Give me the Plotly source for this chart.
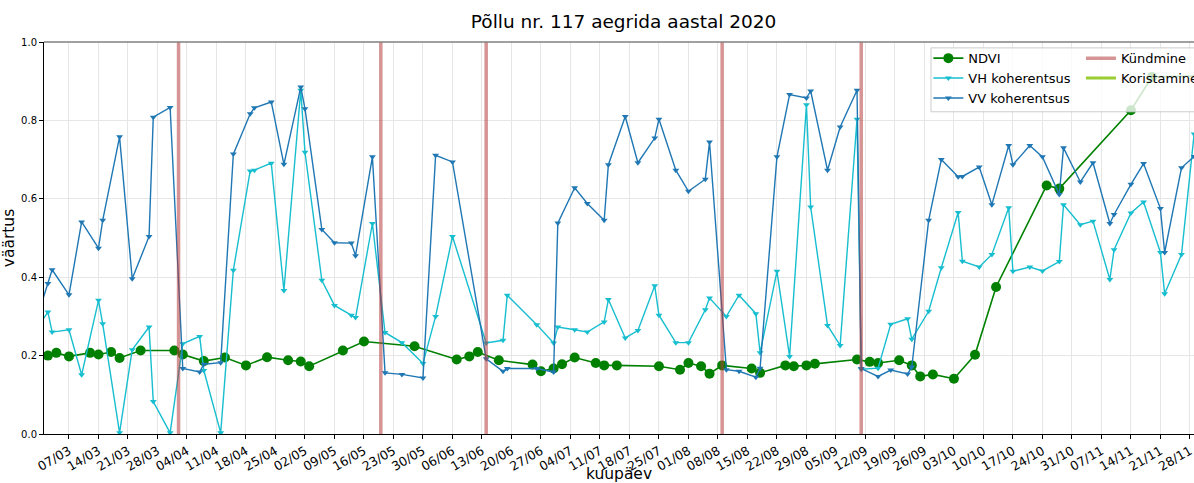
import plotly.graph_objects as go

# Sentinel-1 coherence dates and values
s1_dates = [
    "2020-02-28", "2020-03-02", "2020-03-03", "2020-03-07", "2020-03-10", "2020-03-14",
    "2020-03-15", "2020-03-19", "2020-03-22", "2020-03-26", "2020-03-27", "2020-03-31",
    "2020-04-03", "2020-04-07", "2020-04-08", "2020-04-12", "2020-04-15", "2020-04-19",
    "2020-04-20", "2020-04-24", "2020-04-27", "2020-05-01", "2020-05-02", "2020-05-06",
    "2020-05-09", "2020-05-13", "2020-05-14", "2020-05-18", "2020-05-21", "2020-05-25",
    "2020-05-30", "2020-06-02", "2020-06-06", "2020-06-14", "2020-06-18", "2020-06-19",
    "2020-06-26", "2020-06-30", "2020-07-01", "2020-07-05", "2020-07-08", "2020-07-12",
    "2020-07-13", "2020-07-17", "2020-07-20", "2020-07-24", "2020-07-25", "2020-07-29",
    "2020-08-01", "2020-08-05", "2020-08-06", "2020-08-10", "2020-08-13", "2020-08-17",
    "2020-08-18", "2020-08-22", "2020-08-25", "2020-08-29", "2020-08-30", "2020-09-03",
    "2020-09-06", "2020-09-10", "2020-09-11", "2020-09-15", "2020-09-18", "2020-09-22",
    "2020-09-23", "2020-09-27", "2020-09-30", "2020-10-04", "2020-10-05", "2020-10-09",
    "2020-10-12", "2020-10-16", "2020-10-17", "2020-10-21", "2020-10-24", "2020-10-28",
    "2020-10-29", "2020-11-02", "2020-11-05", "2020-11-09", "2020-11-10", "2020-11-14",
    "2020-11-17", "2020-11-21", "2020-11-22", "2020-11-26", "2020-11-29",
]
vh_values = [
    0.264, 0.311, 0.260, 0.266, 0.151, 0.341,
    0.281, 0.003, 0.215, 0.273, 0.083, 0.003,
    0.230, 0.249, 0.162, 0.003, 0.418, 0.671,
    0.673, 0.691, 0.366, 0.877, 0.719, 0.392,
    0.328, 0.303, 0.297, 0.537, 0.259, 0.233,
    0.180, 0.300, 0.504, 0.232, 0.239, 0.354,
    0.279, 0.232, 0.273, 0.266, 0.260, 0.286,
    0.343, 0.245, 0.264, 0.378, 0.303, 0.233,
    0.233, 0.317, 0.347, 0.300, 0.354, 0.307,
    0.207, 0.415, 0.198, 0.840, 0.579, 0.277,
    0.226, 0.803, 0.165, 0.168, 0.280, 0.294,
    0.242, 0.313, 0.424, 0.565, 0.441, 0.426,
    0.458, 0.577, 0.415, 0.426, 0.416, 0.440,
    0.585, 0.534, 0.543, 0.394, 0.470, 0.564,
    0.592, 0.463, 0.358, 0.458, 0.765,
]
vv_values = [
    0.282, 0.384, 0.419, 0.355, 0.541, 0.474,
    0.545, 0.758, 0.396, 0.504, 0.808, 0.833,
    0.167, 0.158, 0.178, 0.182, 0.714, 0.817,
    0.832, 0.847, 0.688, 0.885, 0.830, 0.522,
    0.488, 0.487, 0.455, 0.707, 0.156, 0.152,
    0.143, 0.711, 0.694, 0.192, 0.160, 0.167,
    0.167, 0.158, 0.538, 0.628, 0.588, 0.545,
    0.687, 0.810, 0.692, 0.755, 0.803, 0.673,
    0.619, 0.650, 0.745, 0.164, 0.160, 0.145,
    0.168, 0.707, 0.866, 0.857, 0.875, 0.673,
    0.783, 0.877, 0.167, 0.147, 0.163, 0.153,
    0.171, 0.545, 0.700, 0.656, 0.657, 0.681,
    0.585, 0.736, 0.687, 0.736, 0.707, 0.611,
    0.730, 0.643, 0.692, 0.537, 0.560, 0.637,
    0.690, 0.575, 0.463, 0.679, 0.708,
]

# NDVI dates and values
ndvi_dates = [
    "2020-03-02", "2020-03-04", "2020-03-07", "2020-03-12", "2020-03-14", "2020-03-17",
    "2020-03-19", "2020-03-24", "2020-04-01", "2020-04-03", "2020-04-08", "2020-04-13",
    "2020-04-18", "2020-04-23", "2020-04-28", "2020-05-01", "2020-05-03", "2020-05-11",
    "2020-05-16", "2020-05-28", "2020-06-07", "2020-06-10", "2020-06-12", "2020-06-17",
    "2020-06-25", "2020-06-27", "2020-06-30", "2020-07-02", "2020-07-05", "2020-07-10",
    "2020-07-12", "2020-07-15", "2020-07-25", "2020-07-30", "2020-08-01", "2020-08-04",
    "2020-08-06", "2020-08-09", "2020-08-16", "2020-08-18", "2020-08-24", "2020-08-26",
    "2020-08-29", "2020-08-31", "2020-09-10", "2020-09-13", "2020-09-15", "2020-09-20",
    "2020-09-23", "2020-09-25", "2020-09-28", "2020-10-03", "2020-10-08", "2020-10-13",
    "2020-10-25", "2020-10-28", "2020-11-14", "2020-11-19", "2020-11-30",
]
ndvi_values = [
    0.200, 0.207, 0.198, 0.207, 0.203, 0.209,
    0.194, 0.213, 0.213, 0.203, 0.186, 0.195,
    0.175, 0.196, 0.188, 0.185, 0.173, 0.213,
    0.236, 0.224, 0.190, 0.198, 0.209, 0.188,
    0.177, 0.160, 0.167, 0.178, 0.195, 0.181,
    0.175, 0.175, 0.173, 0.164, 0.181, 0.173,
    0.154, 0.175, 0.167, 0.156, 0.175, 0.173,
    0.175, 0.179, 0.190, 0.184, 0.181, 0.188,
    0.175, 0.147, 0.152, 0.141, 0.202, 0.375,
    0.634, 0.626, 0.826, 0.911, 0.913,
]

# field events
plowing_dates = ["2020-04-02", "2020-05-20", "2020-06-14", "2020-08-09", "2020-09-11"]
harvest_dates = []

x_range = ["2020-03-01 01:40", "2020-11-28 23:15"]

FONT = "DejaVu Sans"

fig = go.Figure()

fig.add_trace(go.Scatter(
    x=ndvi_dates, y=ndvi_values, name="NDVI", mode="lines+markers",
    line=dict(color="green", width=1.6),
    marker=dict(symbol="circle", size=10, color="green"),
    legend="legend",
))
fig.add_trace(go.Scatter(
    x=s1_dates, y=vh_values, name="VH koherentsus", mode="lines+markers",
    line=dict(color="#17becf", width=1.4),
    marker=dict(symbol="triangle-down", size=6, color="#17becf"),
    legend="legend",
))
fig.add_trace(go.Scatter(
    x=s1_dates, y=vv_values, name="VV koherentsus", mode="lines+markers",
    line=dict(color="#1f77b4", width=1.4),
    marker=dict(symbol="triangle-down", size=6, color="#1f77b4"),
    legend="legend",
))

# vertical event lines
plow_x, plow_y = [], []
for d in plowing_dates:
    plow_x += [d, d, None]
    plow_y += [0, 1, None]
fig.add_trace(go.Scatter(
    x=plow_x, y=plow_y, name="Kündmine", mode="lines",
    line=dict(color="rgba(180,60,60,0.55)", width=3.5),
    legend="legend2",
))
harv_x, harv_y = [], []
for d in harvest_dates:
    harv_x += [d, d, None]
    harv_y += [0, 1, None]
fig.add_trace(go.Scatter(
    x=harv_x if harv_x else [None], y=harv_y if harv_y else [None],
    name="Koristamine", mode="lines",
    line=dict(color="yellowgreen", width=3),
    legend="legend2",
))

# legend box (two columns share one frame)
fig.add_shape(type="rect", xref="paper", yref="paper",
              x0=0.7713, x1=1.03, y0=0.822, y1=0.985,
              fillcolor="rgba(255,255,255,0.8)",
              line=dict(color="#cccccc", width=1), layer="above")
# top spine
fig.add_shape(type="line", xref="paper", yref="paper", x0=0, x1=1.03, y0=1, y1=1,
              line=dict(color="#808080", width=1.5), layer="above")

# the figure runs past the right edge of the window so the legend fits in
# the right margin without pushing the plot area
fig.update_layout(
    width=1234, height=483,
    margin=dict(l=44, r=40, t=42, b=49),
    paper_bgcolor="white", plot_bgcolor="white",
    font=dict(family=FONT, color="black"),
    title=dict(text="Põllu nr. 117 aegrida aastal 2020", x=0.504, xref="paper",
               xanchor="center", y=1 - 22 / 483, yanchor="middle",
               font=dict(size=18.5, family=FONT, color="black")),
    legend=dict(x=0.769, y=0.997, xanchor="left", yanchor="top",
                bgcolor="rgba(0,0,0,0)", borderwidth=0,
                font=dict(size=13, family=FONT), tracegroupgap=0),
    legend2=dict(x=0.9017, y=0.997, xanchor="left", yanchor="top",
                 bgcolor="rgba(0,0,0,0)", borderwidth=0,
                 font=dict(size=13, family=FONT), tracegroupgap=0),
)

fig.update_xaxes(
    type="date", range=x_range,
    tick0="2020-03-07", dtick=7 * 86400000, tickformat="%d/%m",
    tickangle=-30, tickfont=dict(size=12.5, family=FONT),
    ticklabeloverflow="allow",
    ticks="outside", ticklen=4, tickcolor="black",
    showgrid=True, gridcolor="#e6e6e6", gridwidth=1,
    showline=True, linecolor="black", linewidth=1,
    zeroline=False,
    title=dict(text="kuupäev", font=dict(size=15.5, family=FONT), standoff=9),
    automargin=False,
)
fig.update_yaxes(
    range=[0, 1], tick0=0, dtick=0.2, tickformat=".1f",
    tickfont=dict(size=10, family=FONT),
    ticks="outside", ticklen=4, tickcolor="black",
    showgrid=True, gridcolor="#e6e6e6", gridwidth=1,
    showline=True, linecolor="black", linewidth=1,
    zeroline=False,
    title=dict(text="väärtus", font=dict(size=15.5, family=FONT), standoff=6),
    automargin=False,
)

# drop the default page margin and scrollbars so the figure sits at (0, 0)
page_fix = ("document.documentElement.style.overflow='hidden';"
            "document.body.style.overflow='hidden';"
            "document.body.style.margin='0';")
fig.write_html("out.html", post_script=page_fix, config={"displayModeBar": False})
